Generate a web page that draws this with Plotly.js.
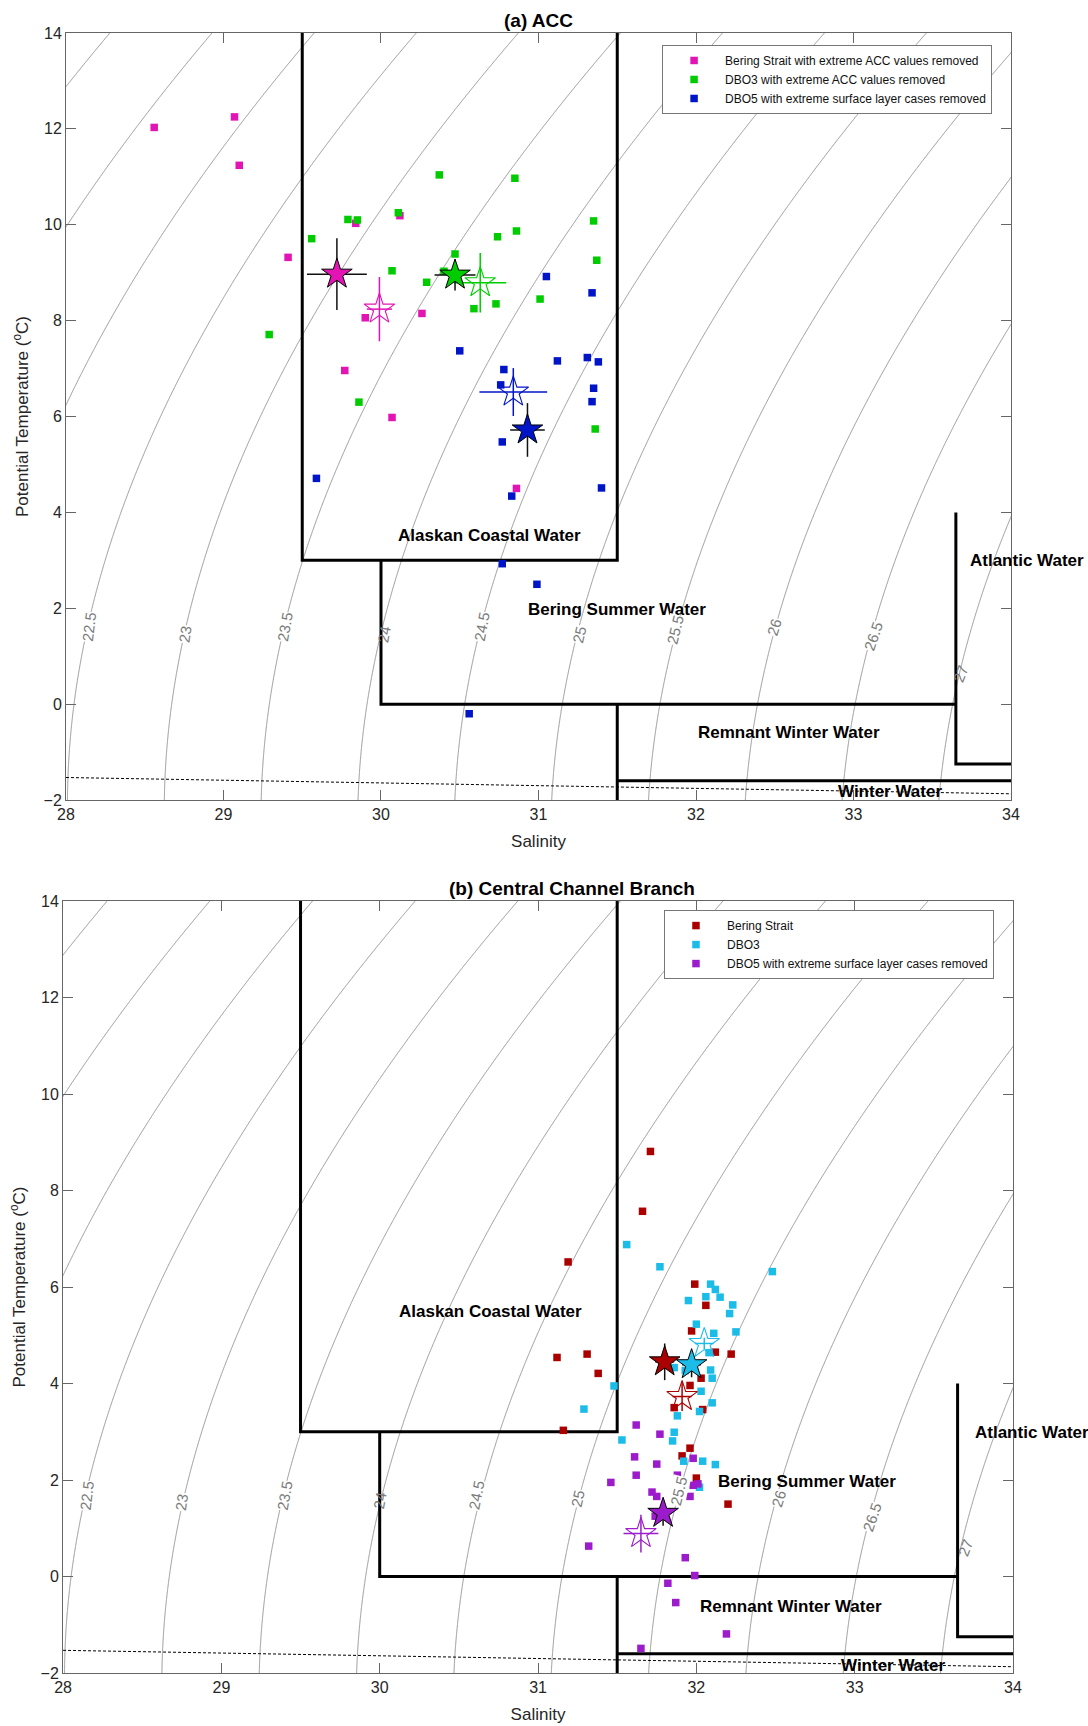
<!DOCTYPE html>
<html><head><meta charset="utf-8">
<script src="https://cdn.plot.ly/plotly-3.0.1.min.js"></script>
<style>body{margin:0;background:#fff}</style>
</head><body>
<div id="chart" style="width:1088px;height:1726px"></div>
<script>
// ---------------- (a) ACC data ----------------
const accBeringS = [28.56, 29.07, 29.10, 29.41, 29.84, 30.12, 29.90, 30.26, 29.77, 30.07, 30.86];
const accBeringT = [12.03, 12.25, 11.24, 9.32, 10.03, 10.19, 8.06, 8.15, 6.96, 5.98, 4.50];
const accDbo3S = [30.37, 30.85, 29.79, 29.85, 30.11, 29.56, 30.74, 30.86, 31.35, 30.47, 31.37, 30.07, 30.40, 30.29, 30.73, 30.59, 31.01, 29.29, 29.86, 31.36];
const accDbo3T = [11.04, 10.97, 10.11, 10.10, 10.25, 9.71, 9.75, 9.87, 10.08, 9.39, 9.26, 9.04, 9.03, 8.80, 8.35, 8.25, 8.45, 7.71, 6.30, 5.74];
const accDbo5S = [31.05, 31.34, 30.50, 31.12, 31.31, 31.38, 30.78, 30.76, 31.35, 31.34, 30.77, 29.59, 30.83, 31.40, 30.77, 30.99, 30.56];
const accDbo5T = [8.92, 8.58, 7.37, 7.16, 7.23, 7.14, 6.98, 6.66, 6.59, 6.31, 5.47, 4.71, 4.34, 4.51, 2.93, 2.50, -0.20];
// means (filled stars) and means (open stars) with std errors: Bering, DBO3, DBO5
const accMeanS = [29.72, 30.47, 30.93];
const accMeanT = [8.97, 8.95, 5.72];
const accMeanErrS = [0.19, 0.13, 0.11];
const accMeanErrT = [0.75, 0.32, 0.56];
const accAltS = [29.99, 30.63, 30.84];
const accAltT = [8.24, 8.79, 6.51];
const accAltErrS = [0.08, 0.165, 0.215];
const accAltErrT = [0.67, 0.62, 0.50];

// ---------------- (b) Central Channel data ----------------
const ccBeringS = [31.71, 31.66, 31.19, 31.99, 32.06, 31.97, 32.12, 32.22, 31.12, 31.31, 31.38, 32.03, 31.96, 31.16, 31.86, 32.04, 31.96, 31.91, 32.00, 32.20];
const ccBeringT = [8.81, 7.57, 6.52, 6.06, 5.62, 5.09, 4.65, 4.61, 4.54, 4.61, 4.21, 4.11, 3.96, 3.03, 3.50, 3.46, 2.66, 2.50, 2.04, 1.50];
const ccDbo3S = [31.56, 31.77, 32.48, 32.09, 32.12, 32.06, 32.15, 31.95, 32.23, 32.21, 32.00, 32.25, 32.11, 32.08, 31.86, 31.93, 32.09, 32.10, 31.48, 32.03, 32.10, 32.02, 31.88, 31.29, 31.86, 31.53, 31.85, 31.92, 32.04, 32.12, 32.02];
const ccDbo3T = [6.88, 6.42, 6.32, 6.06, 5.95, 5.80, 5.79, 5.72, 5.63, 5.45, 5.23, 5.07, 5.04, 4.64, 4.33, 4.27, 4.28, 4.11, 3.95, 3.84, 3.60, 3.42, 3.33, 3.47, 2.99, 2.83, 2.81, 2.39, 2.39, 2.32, 1.85];
const ccDbo5S = [31.62, 31.77, 31.61, 31.75, 31.98, 31.62, 31.46, 31.88, 31.98, 32.01, 31.72, 31.75, 31.96, 31.74, 31.32, 31.93, 31.99, 31.82, 31.87, 32.19, 31.65];
const ccDbo5T = [3.14, 2.95, 2.48, 2.33, 2.45, 2.10, 1.95, 2.10, 1.89, 1.92, 1.75, 1.66, 1.66, 1.25, 0.63, 0.39, 0.02, -0.14, -0.54, -1.19, -1.49];
const ccMeanS = [31.80, 31.97, 31.79];
const ccMeanT = [4.45, 4.39, 1.31];
const ccMeanErrS = [0.06, 0.06, 0.05];
const ccMeanErrT = [0.38, 0.26, 0.26];
const ccAltS = [31.91, 32.05, 31.65];
const ccAltT = [3.73, 4.83, 0.89];
const ccAltErrS = [0.06, 0.06, 0.11];
const ccAltErrT = [0.30, 0.12, 0.39];

// ---------------- series names / colours ----------------
const accNames = ['Bering Strait with extreme ACC values removed', 'DBO3 with extreme ACC values removed', 'DBO5 with extreme surface layer cases removed'];
const ccNames = ['Bering Strait', 'DBO3', 'DBO5 with extreme surface layer cases removed'];
const accColors = ['#E214B4', '#00CC00', '#0015C8'];
const ccColors = ['#AA0000', '#1CBCE8', '#9C1CCC'];

// ---------------- water-mass boundaries (same in both panels) ----------------
const waterMassS = [29.5, 29.5, 31.5, 31.5, null, 30, 30, 33.65, null, 31.5, 31.5, null, 31.5, 34, null, 33.65, 33.65, 34];
const waterMassT = [14, 3, 3, 14, null, 3, 0, 0, null, 0, -2, null, -1.6, -1.6, null, 4, -1.25, -1.25];
const freezeS = [28, 34];
const freezeT = [-1.53, -1.87];
const waterNames = ['Alaskan Coastal Water', 'Bering Summer Water', 'Atlantic Water', 'Remnant Winter Water', 'Winter Water'];
const accWaterS = [30.69, 31.50, 33.73, 32.59, 33.23];
const accWaterT = [3.51, 1.98, 3.00, -0.60, -1.82];
const ccWaterS = [30.70, 32.70, 33.75, 32.60, 33.24];
const ccWaterT = [5.49, 1.97, 2.98, -0.63, -1.84];

// ---------------- isopycnal labels ----------------
const isoLabels = ['22.5', '23', '23.5', '24', '24.5', '25', '25.5', '26', '26.5', '27'];
const accIsoS = [28.146, 28.756, 29.39, 30.02, 30.64, 31.26, 31.87, 32.50, 33.125, 33.68];
const accIsoT = [1.62, 1.45, 1.62, 1.45, 1.62, 1.45, 1.55, 1.61, 1.41, 0.64];
const ccIsoS = [28.15, 28.75, 29.40, 30.00, 30.61, 31.25, 31.89, 32.52, 33.11, 33.70];
const ccIsoT = [1.68, 1.55, 1.68, 1.58, 1.68, 1.62, 1.78, 1.62, 1.22, 0.60];
const isoAngle = [-83, -82, -80, -80, -79, -77, -76, -73, -71, -69];
const isoBg = [true, true, true, false, true, true, true, true, true, false];

// sigma-theta (UNESCO EOS-80, p = 0) for the background isopycnals
function sigma0(S, T) {
  const T2 = T*T, T3 = T2*T, T4 = T3*T, T5 = T4*T;
  const rw = 999.842594 + 6.793952e-2*T - 9.095290e-3*T2 + 1.001685e-4*T3 - 1.120083e-6*T4 + 6.536332e-9*T5;
  const A = 8.24493e-1 - 4.0899e-3*T + 7.6438e-5*T2 - 8.2467e-7*T3 + 5.3875e-9*T4;
  const B = -5.72466e-3 + 1.0227e-4*T - 1.6546e-6*T2;
  return rw + A*S + B*Math.pow(S, 1.5) + 4.8314e-4*S*S - 1000;
}
const gridS = [], gridT = [];
for (let i = 0; i <= 310; i++) gridS.push(27.9 + i*0.02);
for (let j = 0; j <= 328; j++) gridT.push(-2.2 + j*0.05);
const gridZ = gridT.map(t => gridS.map(s => sigma0(s, t)));

const traces = [];
const annotations = [];

function panel(xa, ya, legendId, sq, names, colors, mean, alt, water, iso, title, titleShift) {
  traces.push({type: 'contour', x: gridS, y: gridT, z: gridZ, xaxis: xa, yaxis: ya,
    contours: {coloring: 'none', start: 21, end: 27.5, size: 0.5, showlabels: false},
    line: {color: '#8a8a8a', width: 0.9, smoothing: 0}, showscale: false, hoverinfo: 'skip', showlegend: false});
  traces.push({type: 'scatter', mode: 'lines', x: freezeS, y: freezeT, xaxis: xa, yaxis: ya,
    line: {color: '#000', width: 1, dash: '3px,2px'}, showlegend: false, hoverinfo: 'skip'});
  traces.push({type: 'scatter', mode: 'lines', x: waterMassS, y: waterMassT, xaxis: xa, yaxis: ya,
    line: {color: '#000', width: 3}, connectgaps: false, showlegend: false, hoverinfo: 'skip'});
  for (let k = 0; k < 3; k++) {
    traces.push({type: 'scatter', mode: 'markers', x: sq[k][0], y: sq[k][1], xaxis: xa, yaxis: ya,
      name: names[k], legend: legendId,
      marker: {symbol: 'square', size: 7.5, color: colors[k], line: {width: 0}}});
  }
  for (let k = 0; k < 3; k++) {
    traces.push({type: 'scatter', mode: 'markers', x: [alt[0][k]], y: [alt[1][k]], xaxis: xa, yaxis: ya,
      error_x: {type: 'data', array: [alt[2][k]], color: colors[k], thickness: 1.5, width: 0},
      error_y: {type: 'data', array: [alt[3][k]], color: colors[k], thickness: 1.5, width: 0},
      marker: {symbol: 'star-open', size: 23, color: colors[k], line: {width: 1.1}}, showlegend: false});
  }
  for (let k = 0; k < 3; k++) {
    traces.push({type: 'scatter', mode: 'markers', x: [mean[0][k]], y: [mean[1][k]], xaxis: xa, yaxis: ya,
      error_x: {type: 'data', array: [mean[2][k]], color: '#111', thickness: 1.5, width: 0},
      error_y: {type: 'data', array: [mean[3][k]], color: '#111', thickness: 1.5, width: 0},
      marker: {symbol: 'star', size: 23, color: colors[k], line: {width: 1, color: '#000'}}, showlegend: false});
  }
  for (let k = 0; k < waterNames.length; k++) {
    annotations.push({xref: xa, yref: ya, x: water[0][k], y: water[1][k], text: '<b>' + waterNames[k] + '</b>',
      showarrow: false, xanchor: k === 2 ? 'left' : 'center', yanchor: 'middle',
      font: {size: 17, color: '#000', family: 'Liberation Sans, Arial, sans-serif'}});
  }
  for (let k = 0; k < isoLabels.length; k++) {
    annotations.push({xref: xa, yref: ya, x: iso[0][k], y: iso[1][k], text: isoLabels[k], showarrow: false,
      textangle: isoAngle[k], bgcolor: isoBg[k] ? '#fff' : 'rgba(0,0,0,0)', borderpad: 0,
      font: {size: 15, color: '#7a7a7a'}});
  }
  annotations.push({xref: xa + ' domain', yref: ya + ' domain', x: 0.5, y: 1, yanchor: 'middle', yshift: 13,
    xshift: titleShift,
    text: '<b>' + title + '</b>', showarrow: false, font: {size: 19, color: '#000', family: 'Liberation Sans, Arial, sans-serif'}});
}

panel('x', 'y', 'legend',
  [[accBeringS, accBeringT], [accDbo3S, accDbo3T], [accDbo5S, accDbo5T]],
  accNames, accColors,
  [accMeanS, accMeanT, accMeanErrS, accMeanErrT],
  [accAltS, accAltT, accAltErrS, accAltErrT],
  [accWaterS, accWaterT], [accIsoS, accIsoT], '(a) ACC', 0);
panel('x2', 'y2', 'legend2',
  [[ccBeringS, ccBeringT], [ccDbo3S, ccDbo3T], [ccDbo5S, ccDbo5T]],
  ccNames, ccColors,
  [ccMeanS, ccMeanT, ccMeanErrS, ccMeanErrT],
  [ccAltS, ccAltT, ccAltErrS, ccAltErrT],
  [ccWaterS, ccWaterT], [ccIsoS, ccIsoT], '(b) Central Channel Branch', 34);

function xAxis(domain, anchor) {
  return {domain: domain, anchor: anchor, range: [28, 34], tickvals: [28, 29, 30, 31, 32, 33, 34],
    ticks: 'inside', ticklen: 10, tickcolor: '#666', tickwidth: 1, showline: true, linecolor: '#666', linewidth: 1,
    mirror: 'ticks', showgrid: false, zeroline: false, tickfont: {size: 16, color: '#262626'},
    title: {text: 'Salinity', font: {size: 17, color: '#262626'}, standoff: 12}};
}
function yAxis(domain, anchor) {
  return {domain: domain, anchor: anchor, range: [-2, 14], tickvals: [-2, 0, 2, 4, 6, 8, 10, 12, 14],
    ticks: 'inside', ticklen: 10, tickcolor: '#666', tickwidth: 1, showline: true, linecolor: '#666', linewidth: 1,
    mirror: 'ticks', showgrid: false, zeroline: false, tickfont: {size: 16, color: '#262626'},
    title: {text: 'Potential Temperature (<sup>o</sup>C)', font: {size: 17, color: '#262626'}, standoff: 10}};
}
const legendStyle = {xanchor: 'left', yanchor: 'top', bgcolor: '#fff', bordercolor: '#777', borderwidth: 1,
  font: {size: 12, color: '#111'}, itemwidth: 52, tracegroupgap: 0};

const layout = {
  width: 1088, height: 1726,
  margin: {l: 62, r: 75, t: 33, b: 53},
  paper_bgcolor: '#fff', plot_bgcolor: '#fff',
  font: {family: 'Liberation Sans, Arial, sans-serif', color: '#262626'},
  xaxis: xAxis([0.0042, 0.9979], 'y'),
  yaxis: yAxis([0.5323, 1], 'x'),
  xaxis2: xAxis([0.0011, 1.0], 'y2'),
  yaxis2: yAxis([0, 0.4707], 'x2'),
  legend: Object.assign({x: 0.631, y: 0.9927}, legendStyle),
  legend2: Object.assign({x: 0.633, y: 0.4652}, legendStyle),
  annotations: annotations,
  showlegend: true
};

Plotly.newPlot('chart', traces, layout, {displayModeBar: false, staticPlot: true});
</script>
</body></html>
